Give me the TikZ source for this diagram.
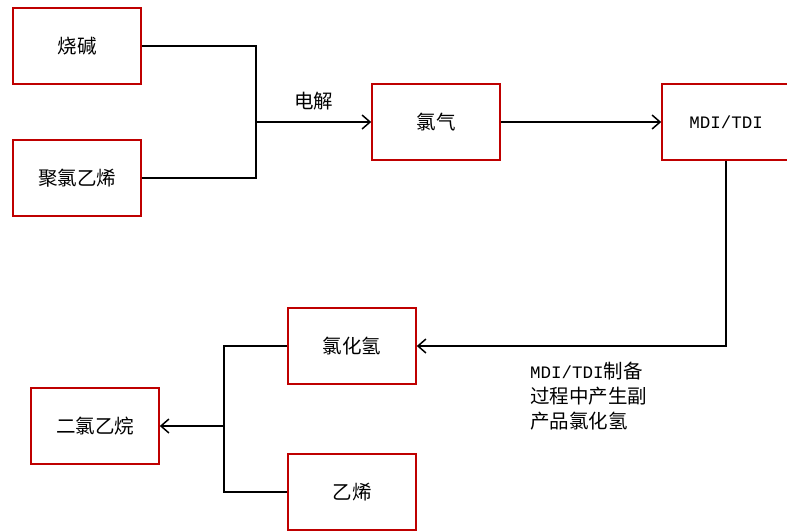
\documentclass[tikz,border=0pt]{standalone}
\usepackage{fontspec}
\setmainfont{Noto Sans CJK SC}
\newfontfamily\latinmono{Liberation Mono}
\usetikzlibrary{arrows.meta}

\begin{document}
\begin{tikzpicture}[x=1pt, y=-1pt,
        box/.style={draw=red!75!black, line width=1.6pt, minimum width=128pt, minimum height=76pt, inner sep=0pt, font=\fontsize{19.5}{24}\selectfont},
        flow/.style={line width=1.5pt},
        >={Straight Barb[length=8pt,width=14pt,line width=1.5pt]}]
        \useasboundingbox (0,0) rectangle (787,531);

        % Raw materials and chlorine
        \node[box] (shaojian) at (77,46) {烧碱};
        \node[box] (pvc) at (77,178) {聚氯乙烯};
        \node[box] (lvqi) at (436,122) {氯气};
        \node[box] (mdi) at (726,122) {\latinmono\fontsize{17.5}{20}\selectfont MDI/TDI};

        % Hydrogen chloride route
        \node[box] (hcl) at (352,346) {氯化氢};
        \node[box] (yixi) at (352,492) {乙烯};
        \node[box] (edc) at (95,426) {二氯乙烷};

        % Junction points
        \coordinate (j1) at (256,122);
        \coordinate (j2) at (224,426);

        % Electrolysis
        \draw[flow] (shaojian.east) -| (j1);
        \draw[flow] (pvc.east) -| (j1);
        \draw[flow, ->] (j1) -- (lvqi.west) node[midway, above=8pt, font=\fontsize{19.5}{24}\selectfont]{电解};
        \draw[flow, ->] (lvqi.east) -- (mdi.west);

        % By-product back to hydrogen chloride
        \draw[flow, ->] (mdi.south) |- (hcl.east);
        \node[anchor=north west, align=left, font=\fontsize{19.5}{25}\selectfont, inner sep=0pt] (note) at (530,362)
            {{\latinmono\fontsize{17.5}{20}\selectfont MDI/TDI}制备\\过程中产生副\\产品氯化氢};

        % Dichloroethane
        \draw[flow] (hcl.west) -| (j2);
        \draw[flow] (yixi.west) -| (j2);
        \draw[flow, ->] (j2) -- (edc.east);
    \end{tikzpicture}
\end{document}
